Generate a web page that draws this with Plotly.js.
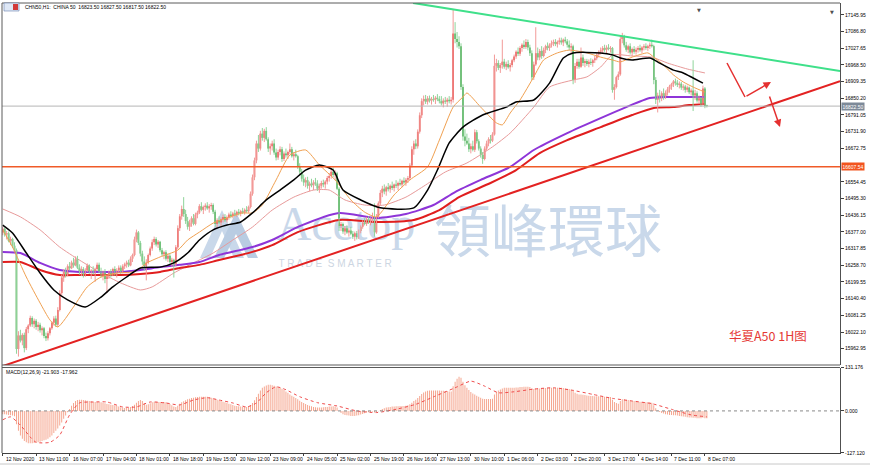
<!DOCTYPE html>
<html><head><meta charset="utf-8">
<script src="https://cdn.plot.ly/plotly-3.0.1.min.js"></script>
<style>html,body{margin:0;padding:0;background:#fff}#chart{width:870px;height:468px}</style>
</head><body><div id="chart"></div>
<script>
// ---------- DATA (CHN50 H1) ----------
const barOpen = [
16375,16388,16368,16372,16345,16352,16328,16312,15962,16010,
15992,16012,15965,16032,16045,16072,16050,16062,16040,16048,
16028,16035,16008,16000,16018,16035,16055,16070,16048,16100,
16160,16215,16235,16225,16255,16248,16268,16258,16280,16250,
16232,16245,16225,16240,16258,16232,16240,16230,16245,16260,
16238,16222,16235,16210,16220,16232,16225,16245,16230,16240,
16250,16235,16255,16262,16268,16258,16282,16295,16350,16375,
16338,16300,16272,16255,16268,16295,16318,16340,16352,16332,
16342,16312,16298,16305,16282,16292,16270,16278,16262,16322,
16390,16432,16458,16440,16415,16395,16410,16425,16405,16438,
16445,16468,16455,16465,16470,16460,16468,16472,16448,16405,
16418,16410,16422,16430,16418,16428,16438,16432,16442,16438,
16448,16442,16450,16445,16455,16450,16465,16512,16570,16630,
16690,16672,16725,16710,16735,16705,16672,16680,16690,16658,
16640,16660,16670,16635,16655,16648,16660,16670,16645,16652,
16645,16608,16590,16565,16552,16560,16540,16548,16542,16552,
16548,16530,16540,16550,16545,16555,16568,16575,16590,16578,
16585,16530,16395,16405,16378,16390,16375,16382,16370,16360,
16372,16358,16380,16395,16410,16405,16422,16412,16420,16425,
16375,16430,16478,16515,16530,16520,16535,16528,16540,16532,
16545,16540,16550,16545,16558,16552,16562,16568,16612,16670,
16690,16680,16732,16790,16840,16848,16838,16850,16842,16848,
16845,16852,16848,16840,16832,16842,16838,16845,16840,16845,
17080,17060,17050,17035,16890,16715,16700,16690,16670,16680,
16668,16730,16698,16672,16650,16635,16672,16690,16705,16700,
16722,16965,16975,16958,16968,16980,16962,16972,16960,16968,
16985,16998,17015,17008,17028,17040,17032,17050,17030,17010,
16925,16970,17010,16995,17018,17000,17022,17035,17028,17040,
17045,17050,17042,17050,17055,17048,17058,17052,17040,17030,
17035,16915,16965,16980,16962,16995,16975,16982,16972,16980,
16975,16985,16992,17005,17015,17020,17028,17022,17030,17025,
17028,16880,16890,16925,16935,17060,17068,17038,17022,17035,
17012,17025,17015,17022,17028,17020,17030,17035,17028,17035,
17040,17035,16915,16845,16860,16850,16868,16855,16870,16882,
16892,16900,16910,16905,16898,16902,16888,16892,16880,16888,
16872,16878,16860,16868,16842,16850,16830,16885,16823.5];
const barHigh = [
16395,16392,16380,16378,16360,16356,16340,16318,16025,16030,
16018,16020,16040,16050,16080,16078,16070,16068,16058,16055,
16042,16040,16020,16025,16040,16060,16078,16080,16110,16170,
16225,16245,16250,16262,16270,16275,16285,16290,16292,16262,
16255,16252,16248,16265,16262,16245,16255,16250,16268,16268,
16250,16240,16245,16225,16240,16245,16250,16255,16248,16258,
16258,16262,16268,16275,16278,16290,16300,16360,16385,16380,
16345,16310,16290,16280,16300,16325,16350,16360,16358,16348,
16345,16320,16310,16312,16300,16298,16285,16282,16330,16400,
16440,16470,16500,16455,16430,16420,16432,16440,16445,16452,
16475,16482,16470,16478,16482,16475,16480,16478,16455,16425,
16432,16428,16438,16440,16435,16445,16450,16448,16455,16452,
16458,16455,16462,16460,16468,16470,16520,16580,16640,16700,
16720,16735,16745,16742,16748,16712,16690,16700,16705,16672,
16668,16680,16678,16662,16672,16665,16690,16678,16660,16668,
16650,16620,16600,16580,16570,16572,16555,16565,16560,16568,
16560,16548,16558,16562,16560,16575,16585,16600,16605,16595,
16590,16535,16412,16410,16398,16400,16390,16395,16380,16378,
16380,16385,16400,16418,16425,16430,16432,16428,16445,16478,
16440,16485,16525,16540,16545,16540,16550,16545,16555,16548,
16560,16555,16565,16562,16570,16568,16575,16620,16680,16700,
16705,16740,16800,16850,16860,16862,16858,16860,16855,16862,
16858,16865,16858,16858,16850,16855,16852,16858,16855,17163,
17120,17085,17070,17045,16900,16740,16725,16710,16690,16700,
16740,16738,16705,16680,16660,16680,16700,16712,16720,16730,
17005,16990,16985,16975,17058,16990,16980,16985,16975,16990,
17005,17020,17030,17035,17045,17055,17060,17058,17040,17020,
16980,17102,17030,17025,17035,17030,17040,17048,17045,17055,
17058,17060,17055,17065,17065,17062,17068,17060,17055,17045,
17040,16975,16990,16990,17030,17005,16990,16990,16988,16992,
16990,17000,17010,17020,17030,17035,17040,17038,17042,17035,
17032,16900,16930,16945,17070,17082,17075,17050,17040,17045,
17030,17035,17030,17035,17040,17035,17042,17045,17040,17048,
17058,17040,16925,16870,16880,16875,16885,16878,16890,16898,
16905,16915,16920,16915,16910,16908,16900,16898,16895,16892,
16885,16985,16880,16875,16860,16855,16895,16890,16827.5];
const barLow = [
16365,16360,16350,16340,16330,16320,16305,15945,15935,15985,
15975,15950,15958,16018,16040,16040,16035,16030,16025,16020,
16010,16000,15990,15992,16010,16030,16045,16040,16040,16095,
16150,16200,16215,16220,16240,16245,16250,16255,16245,16225,
16220,16215,16218,16235,16228,16210,16225,16200,16240,16230,
16215,16205,16195,16160,16210,16215,16220,16222,16215,16232,
16228,16230,16245,16250,16252,16255,16270,16290,16340,16330,
16290,16260,16240,16205,16262,16290,16310,16330,16325,16320,
16305,16290,16280,16275,16270,16265,16255,16215,16255,16315,
16380,16420,16430,16405,16385,16380,16395,16400,16400,16425,
16440,16450,16440,16452,16455,16445,16455,16440,16395,16390,
16405,16398,16410,16412,16410,16420,16425,16425,16432,16430,
16435,16432,16440,16438,16445,16445,16460,16505,16560,16620,
16660,16665,16700,16695,16700,16660,16650,16665,16650,16630,
16632,16648,16625,16628,16640,16635,16652,16640,16630,16640,
16600,16580,16555,16540,16535,16530,16520,16535,16525,16540,
16522,16515,16530,16535,16530,16545,16555,16565,16570,16560,
16525,16380,16380,16370,16365,16370,16360,16365,16352,16345,
16350,16352,16372,16388,16400,16398,16405,16400,16410,16360,
16370,16425,16470,16500,16510,16505,16520,16515,16525,16520,
16532,16525,16540,16535,16545,16540,16550,16560,16605,16650,
16670,16672,16725,16780,16825,16830,16828,16835,16828,16838,
16830,16840,16832,16825,16818,16830,16820,16832,16828,16835,
17045,17030,17025,16880,16700,16680,16685,16660,16655,16662,
16660,16690,16665,16640,16618,16630,16665,16680,16690,16695,
16718,16945,16950,16940,16955,16955,16950,16955,16945,16960,
16978,16990,17000,17000,17015,17025,17025,17020,17000,16915,
16915,16965,16985,16985,16990,16995,17010,17020,17018,17030,
17035,17035,17030,17040,17040,17035,17045,17030,17020,17010,
16900,16905,16955,16955,16958,16965,16960,16965,16960,16968,
16962,16975,16985,16995,17005,17010,17015,17010,17020,17012,
16870,16845,16885,16915,16930,17045,17030,17015,17010,17005,
17000,17008,17005,17012,17015,17010,17020,17022,17018,17025,
17030,16900,16830,16800,16835,16840,16845,16848,16860,16870,
16880,16890,16895,16890,16885,16880,16878,16870,16872,16865,
16860,16805,16845,16835,16830,16820,16825,16815,16817.5];
const barClose = [
16388,16368,16372,16345,16352,16328,16312,15962,16010,15992,
16012,15965,16032,16045,16072,16050,16062,16040,16048,16028,
16035,16008,16000,16018,16035,16055,16070,16048,16100,16160,
16215,16235,16225,16255,16248,16268,16258,16280,16250,16232,
16245,16225,16240,16258,16232,16240,16230,16245,16260,16238,
16222,16235,16210,16220,16232,16225,16245,16230,16240,16250,
16235,16255,16262,16268,16258,16282,16295,16350,16375,16338,
16300,16272,16255,16268,16295,16318,16340,16352,16332,16342,
16312,16298,16305,16282,16292,16270,16278,16262,16322,16390,
16432,16458,16440,16415,16395,16410,16425,16405,16438,16445,
16468,16455,16465,16470,16460,16468,16472,16448,16405,16418,
16410,16422,16430,16418,16428,16438,16432,16442,16438,16448,
16442,16450,16445,16455,16450,16465,16512,16570,16630,16690,
16672,16725,16710,16735,16705,16672,16680,16690,16658,16640,
16660,16670,16635,16655,16648,16660,16670,16645,16652,16645,
16608,16590,16565,16552,16560,16540,16548,16542,16552,16548,
16530,16540,16550,16545,16555,16568,16575,16590,16578,16585,
16530,16395,16405,16378,16390,16375,16382,16370,16360,16372,
16358,16380,16395,16410,16405,16422,16412,16420,16425,16375,
16430,16478,16515,16530,16520,16535,16528,16540,16532,16545,
16540,16550,16545,16558,16552,16562,16568,16612,16670,16690,
16680,16732,16790,16840,16848,16838,16850,16842,16848,16845,
16852,16848,16840,16832,16842,16838,16845,16840,16845,17080,
17060,17050,17035,16890,16715,16700,16690,16670,16680,16668,
16730,16698,16672,16650,16635,16672,16690,16705,16700,16722,
16965,16975,16958,16968,16980,16962,16972,16960,16968,16985,
16998,17015,17008,17028,17040,17032,17050,17030,17010,16925,
16970,17010,16995,17018,17000,17022,17035,17028,17040,17045,
17050,17042,17050,17055,17048,17058,17052,17040,17030,17035,
16915,16965,16980,16962,16995,16975,16982,16972,16980,16975,
16985,16992,17005,17015,17020,17028,17022,17030,17025,17028,
16880,16890,16925,16935,17060,17068,17038,17022,17035,17012,
17025,17015,17022,17028,17020,17030,17035,17028,17035,17040,
17035,16915,16845,16860,16850,16868,16855,16870,16882,16892,
16900,16910,16905,16898,16902,16888,16892,16880,16888,16872,
16878,16860,16868,16842,16850,16830,16885,16823,16822.5];

// Moving averages (bar index, price)
const maOrangeIdx = [0,5,12,19,24,28,36,43,50,58,66,70,73,80,89,94,100,107,114,122,127,132,139,146,154,161,169,177,184,190,199,207,216,222,229,234,236,243,251,254,258,263,270,275,282,288,297,304,310,314,320,328,331,336,341,346,351,357];
const maOrange = [16384,16323,16217,16125,16065,16040,16111,16182,16217,16231,16235,16249,16266,16288,16312,16348,16376,16408,16426,16444,16444,16472,16561,16649,16667,16614,16561,16490,16447,16430,16508,16561,16607,16702,16819,16855,16869,16819,16763,16756,16798,16844,16926,16986,17011,17021,17011,16996,16986,16979,16996,17011,16996,16968,16933,16908,16890,16872];
const maBlackIdx = [0,5,12,19,26,33,42,50,56,63,70,80,87,94,100,107,114,121,127,134,141,148,154,161,168,173,182,192,209,216,221,227,234,244,256,261,270,278,285,290,304,310,314,320,329,334,341,346,351,356];
const maBlack = [16401,16373,16302,16231,16171,16136,16111,16146,16182,16217,16249,16252,16267,16302,16348,16384,16401,16412,16444,16490,16525,16561,16596,16614,16596,16525,16490,16462,16462,16525,16596,16692,16748,16791,16819,16837,16844,16904,16993,17011,17011,17004,16993,16986,16993,16975,16950,16940,16922,16904];
const maPinkIdx = [0,9,19,29,39,50,60,70,76,87,97,107,117,127,137,148,158,166,174,184,194,205,215,225,236,249,258,270,278,290,297,304,310,320,330,338,348,357];
const maPink = [16458,16430,16384,16323,16277,16231,16196,16171,16182,16231,16267,16302,16348,16394,16454,16500,16525,16525,16490,16472,16472,16500,16543,16589,16621,16678,16727,16819,16890,16915,16926,16961,17004,17000,16996,16975,16954,16940];
const maPurpleIdx = [0,9,19,29,39,50,60,70,80,90,100,110,121,127,137,151,171,190,205,219,230,243,258,270,287,304,317,329,338,348,357];
const maPurple = [16306,16302,16267,16242,16235,16235,16235,16242,16252,16260,16270,16295,16313,16323,16348,16397,16444,16426,16440,16472,16518,16561,16607,16667,16727,16780,16819,16851,16855,16855,16855];
const maRedIdx = [0,9,19,29,39,50,60,70,80,90,100,110,121,127,137,150,171,190,209,222,232,248,261,273,287,304,320,331,341,349,357];
const maRed = [16270,16270,16242,16224,16224,16224,16224,16228,16235,16249,16260,16277,16295,16306,16330,16376,16419,16412,16419,16454,16500,16550,16596,16656,16702,16748,16791,16816,16819,16826,16830];

// Trend lines and levels
const supportIdx = [-1.4, 425.7];
const supportPrice = [15898, 16911];
const resistIdx = [208.6, 425.7];
const resistPrice = [17188, 16947];
const levelPrice = 16607.54;
const bidPrice = 16822.50;

// MACD(12,26,9)
const macdMain = [
-10,-10,-11,-12,-13,-14,-16, -40,-60,-74,-84,-91,-95,-98, -98,-98,-97,-96,-95,-93,-91,
-89,-87,-84,-80,-74,-67,-60, -53,-44,-35,-24,-14,-4,6, 16,24,30,33,34,34,33,
32,31,30,29,28,27,27, 27,26,25,23,21,20,19, 18,17,15,13,11,10,9,
9,10,12,15,19,25,30, 33,30,24,19,20,23,26, 28,28,27,27,27,27,26,
24,21,17,13,12,16,22, 26,29,32,35,37,39,40, 41,42,43,43,43,43,43,
42,40,38,36,34,32,30, 28,26,24,22,20,18,16, 15,14,13,12,12,12,14,
18,24,32,42,52,62,70, 74,77,79,79,78,76,74, 72,70,67,63,59,55,50,
46,43,39,35,31,27,24, 21,18,16,14,12,11,10, 10,10,11,12,12,13,13,
14,13,10,0,-6,-10,-12, -13,-14,-15,-15,-15,-14,-13, -11,-9,-7,-5,-4,-3,-2,
-5,-4,-1,3,6,8,10, 11,12,13,13,14,14,15, 15,15,16,17,20,25,30,
34,39,45,51,56,59,61, 62,62,62,62,62,62,61, 61,60,60,59,59,75,88,
97,103,100,88,78,70,63, 57,53,50,46,43,40,37, 36,36,36,36,37,50,58,
62,65,68,70,70,70,70, 70,70,71,71,72,72,73, 73,73,72,68,66,67,68,
68,68,69,69,70,70,70, 70,70,70,70,70,69,68, 67,66,65,64,55,52,50,
50,49,48,47,46,45,45, 44,44,44,44,43,43,42, 42,42,34,27,24,22,30,
35,35,34,33,32,31,30, 29,28,28,27,27,26,26, 26,25,17,8,1,-3,-6,
-8,-10,-11,-12,-12,-13,-13, -14,-15,-16,-17,-18,-19,-20, -20,-21,-21,-22,-22,-22,-21,
-22,-21.9];
const signalIdx = [0,4,9,14,17,24,29,34,39,46,53,61,68,75,83,90,97,104,110,117,124,129,134,139,144,151,160,170,180,190,200,210,220,230,238,245,252,260,270,280,290,300,310,320,330,340,350,358];
const signalVal = [-27,-18,-43,-79,-95,-95,-73,-12,24,27,27,12,12,27,24,18,33,40,33,24,12,24,55,73,64,43,25,15,0,-5,5,20,45,70,90,75,55,58,66,70,62,50,38,30,22,5,-12,-17.962];

// Axis labels (16613.60 is hidden behind the 16607.54 level box in the picture)
const xLabelIdx = [0,17,34,51,68,85,102,119,136,153,170,187,204,221,238,255,272,289,306,323,340,357];
const xLabels = ["12 Nov 2020","13 Nov 11:00","16 Nov 07:00","17 Nov 04:00","18 Nov 01:00","18 Nov 18:00","19 Nov 15:00","20 Nov 12:00","23 Nov 09:00","24 Nov 05:00","25 Nov 02:00","25 Nov 19:00","26 Nov 16:00","27 Nov 13:00","30 Nov 10:00","1 Dec 06:00","2 Dec 03:00","2 Dec 20:00","3 Dec 17:00","4 Dec 14:00","7 Dec 11:00","8 Dec 07:00"];
const priceTicks = [17145.95,17086.80,17027.65,16968.50,16909.35,16850.20,16791.05,16731.90,16672.75,16554.45,16495.30,16436.15,16377.00,16317.85,16258.70,16199.55,16140.40,16081.25,16022.10,15962.95];
const macdTicks = [131.176, 0, -127.120];
const macdTickText = ["131.176","0.000","-127.120"];

// ---------- BUILD ----------
const RED='#E5322F', GREEN='#2E9A35';
function wick(up){const xs=[],ys=[];for(let i=0;i<barClose.length;i++){if((barClose[i]>=barOpen[i])===up){xs.push(i,i,null);ys.push(barLow[i],barHigh[i],null);}}
 return {type:'scatter',mode:'lines',x:xs,y:ys,line:{color:up?'#F29A98':'#8FD49A',width:1},hoverinfo:'skip',showlegend:false};}
function body(up){const xs=[],b=[],h=[];for(let i=0;i<barClose.length;i++){if((barClose[i]>=barOpen[i])===up){xs.push(i);b.push(Math.min(barOpen[i],barClose[i]));h.push(Math.max(Math.abs(barClose[i]-barOpen[i]),3));}}
 return {type:'bar',x:xs,y:h,base:b,width:0.8,marker:{color:up?RED:GREEN,line:{width:0}},hoverinfo:'skip',showlegend:false};}
function ma(ix,v,color,w){return {type:'scatter',mode:'lines',x:ix,y:v,line:{color:color,width:w,shape:'spline',smoothing:0.6},hoverinfo:'skip',showlegend:false};}

// watermark (chart coordinates) — drawn first so it stays behind the bars
const wm = [
 {type:'scatter',mode:'text',x:[174.5],y:[16392],text:['Acetop'],textfont:{family:'Liberation Serif',size:48,color:'#c9d8ea'},hoverinfo:'skip',showlegend:false},
 {type:'scatter',mode:'text',x:[277.2],y:[16355],text:['領峰環球'],textfont:{family:'Noto Sans CJK TC',size:57,color:'#c9d8ea'},hoverinfo:'skip',showlegend:false},
 {type:'scatter',mode:'text',x:[169],y:[16262],text:['T R A D E  S M A R T E R'],textfont:{family:'Liberation Sans',size:10,color:'#cdd6e2'},hoverinfo:'skip',showlegend:false}
];

const data = [...wm,
 ma(maPinkIdx,maPink,'#E89A9A',1),
 ma(maPurpleIdx,maPurple,'#8E35D8',2),
 ma(maRedIdx,maRed,'#E01E1E',2),
 wick(true),wick(false),body(true),body(false),
 ma(maOrangeIdx,maOrange,'#F0A050',1),
 ma(maBlackIdx,maBlack,'#000000',1.5),
 {type:'scatter',mode:'lines',x:supportIdx,y:supportPrice,line:{color:'#E32222',width:2},hoverinfo:'skip',showlegend:false},
 {type:'scatter',mode:'lines',x:resistIdx,y:resistPrice,line:{color:'#3FE08A',width:2},hoverinfo:'skip',showlegend:false},
 {type:'bar',x:macdMain.map((_,i)=>i),y:macdMain,width:0.5,xaxis:'x',yaxis:'y2',marker:{color:'#F5A58E',line:{width:0}},hoverinfo:'skip',showlegend:false},
 {type:'scatter',mode:'lines',x:signalIdx,y:signalVal,xaxis:'x',yaxis:'y2',line:{color:'#EE4B4B',width:1,dash:'dot',shape:'spline',smoothing:0.6},hoverinfo:'skip',showlegend:false}
];

// helpers for paper coordinates from pixel positions (styling only)
const PX=(px)=>(px-2)/838, PY=(py)=>(453-py)/450;
const F='Liberation Sans';
const annotations = [];
xLabels.forEach((t,k)=>annotations.push({x:xLabelIdx[k],xref:'x',y:0,yref:'paper',text:t,showarrow:false,xanchor:'left',yanchor:'top',xshift:1,yshift:-1,font:{family:F,size:5,color:'#000'}}));
annotations.push({x:PX(23),y:PY(7),xref:'paper',yref:'paper',text:'CHN50,H1:  CHINA 50  16823.50 16827.50 16817.50 16822.50',showarrow:false,xanchor:'left',yanchor:'middle',font:{family:F,size:5,color:'#000'}});
annotations.push({x:PX(4),y:PY(372),xref:'paper',yref:'paper',text:'MACD(12,26,9) -21.903 -17.962',showarrow:false,xanchor:'left',yanchor:'middle',font:{family:F,size:5,color:'#000'}});
annotations.push({x:PX(841),y:bidPrice,xref:'paper',yref:'y',text:bidPrice.toFixed(2),showarrow:false,xanchor:'left',yanchor:'middle',bgcolor:'#7D8A99',borderpad:0.5,font:{family:F,size:5,color:'#fff'}});
annotations.push({x:PX(841),y:levelPrice,xref:'paper',yref:'y',text:levelPrice.toFixed(2),showarrow:false,xanchor:'left',yanchor:'middle',bgcolor:'#F2541E',borderpad:0.5,font:{family:F,size:5,color:'#fff'}});
annotations.push({x:PX(768),y:PY(335),xref:'paper',yref:'paper',text:'华夏A50 1H图',showarrow:false,xanchor:'center',yanchor:'middle',font:{family:'Noto Sans CJK SC',size:12.5,color:'#E53935'}});
annotations.push({x:PX(771),y:PY(82),xref:'paper',yref:'paper',ax:-26,ay:15,axref:'pixel',ayref:'pixel',text:'',showarrow:true,arrowhead:2,arrowsize:1,arrowwidth:1.5,arrowcolor:'#E53030'});
annotations.push({x:PX(780),y:PY(127),xref:'paper',yref:'paper',ax:-11,ay:-32,text:'',showarrow:true,arrowhead:2,arrowsize:1,arrowwidth:1.5,arrowcolor:'#E53030'});
annotations.push({x:PX(703),y:PY(5),xref:'paper',yref:'paper',text:'▼',showarrow:false,font:{family:'DejaVu Sans',size:5,color:'#505050'}});
annotations.push({x:PX(836),y:PY(7),xref:'paper',yref:'paper',text:'▼',showarrow:false,font:{family:'DejaVu Sans',size:5,color:'#505050'}});

const G='#5a5a5a';
const shapes = [
 {type:'path',xref:'paper',yref:'paper',layer:'below',path:`M${PX(200)},${PY(258)} L${PX(222)},${PY(210)} L${PX(244)},${PY(258)} L${PX(234)},${PY(258)} L${PX(222)},${PY(231)} L${PX(210)},${PY(258)} Z`,fillcolor:'#c9d8ea',line:{width:0}},
 {type:'path',xref:'paper',yref:'paper',layer:'below',path:`M${PX(214)},${PY(258)} L${PX(236)},${PY(212)} L${PX(258)},${PY(258)} L${PX(248)},${PY(258)} L${PX(236)},${PY(234)} L${PX(224)},${PY(258)} Z`,fillcolor:'#b9cce2',line:{width:0}},
 {type:'line',xref:'paper',x0:0,x1:1,yref:'y',y0:bidPrice,y1:bidPrice,line:{color:'#B5B5B5',width:1}},
 {type:'line',xref:'paper',x0:0,x1:1,yref:'y',y0:levelPrice,y1:levelPrice,line:{color:'#F05A28',width:1.5}},
 {type:'line',xref:'paper',x0:0,x1:1,yref:'y2',y0:0,y1:0,line:{color:'#8a8a8a',width:1,dash:'dot'}},
 {type:'line',xref:'paper',yref:'paper',x0:PX(727),y0:PY(63),x1:PX(745),y1:PY(97),line:{color:'#E53030',width:1.5}},
 {type:'line',xref:'paper',yref:'paper',x0:0,x1:1,y0:PY(365),y1:PY(365),line:{color:G,width:1}},
 {type:'line',xref:'paper',yref:'paper',x0:0,x1:1,y0:PY(367.5),y1:PY(367.5),line:{color:G,width:1}},
 {type:'line',xref:'paper',yref:'paper',x0:0,x1:0,y0:0,y1:1,line:{color:G,width:1}},
 {type:'line',xref:'paper',yref:'paper',x0:0,x1:1,y0:1,y1:1,line:{color:G,width:1}},
 {type:'line',xref:'paper',yref:'paper',x0:PX(0),x1:PX(870),y0:PY(464),y1:PY(464),line:{color:'#c8c8c8',width:1}},
 {type:'rect',xref:'paper',yref:'paper',x0:PX(4),x1:PX(19),y0:PY(11),y1:PY(3),fillcolor:'#dfe8f6',line:{color:'#6a7fb0',width:0.6}},
 {type:'rect',xref:'paper',yref:'paper',x0:PX(13),x1:PX(18),y0:PY(10),y1:PY(4),fillcolor:'#d23a3a',line:{width:0}}
];

const layout = {
 width:870,height:468,margin:{l:2,r:30,t:3,b:15},paper_bgcolor:'#fff',plot_bgcolor:'#fff',
 showlegend:false,barmode:'overlay',hovermode:false,font:{family:F,size:5,color:'#000'},
 xaxis:{domain:[0,1],range:[-0.356,425.68],anchor:'y2',showgrid:false,zeroline:false,showline:true,linecolor:'#404040',linewidth:1,
        ticks:'outside',ticklen:2,tickcolor:'#404040',tickvals:xLabelIdx,showticklabels:false,fixedrange:true},
 yaxis:{domain:[PY(365),1],range:[15905.2,17187.8],side:'right',anchor:'x',showgrid:false,zeroline:false,showline:true,linecolor:'#505050',linewidth:1,
        ticks:'outside',ticklen:3,tickcolor:'#404040',tickvals:priceTicks,ticktext:priceTicks.map(v=>v.toFixed(2)),tickfont:{family:F,size:5,color:'#000'},fixedrange:true},
 yaxis2:{domain:[0,PY(367.5)],range:[-127.3,131.35],side:'right',anchor:'x',showgrid:false,zeroline:false,showline:true,linecolor:'#505050',linewidth:1,
        ticks:'outside',ticklen:3,tickcolor:'#404040',tickvals:macdTicks,ticktext:macdTickText,tickfont:{family:F,size:5,color:'#000'},fixedrange:true},
 annotations:annotations,shapes:shapes
};
Plotly.newPlot('chart',data,layout,{staticPlot:true,displayModeBar:false});
</script></body></html>
